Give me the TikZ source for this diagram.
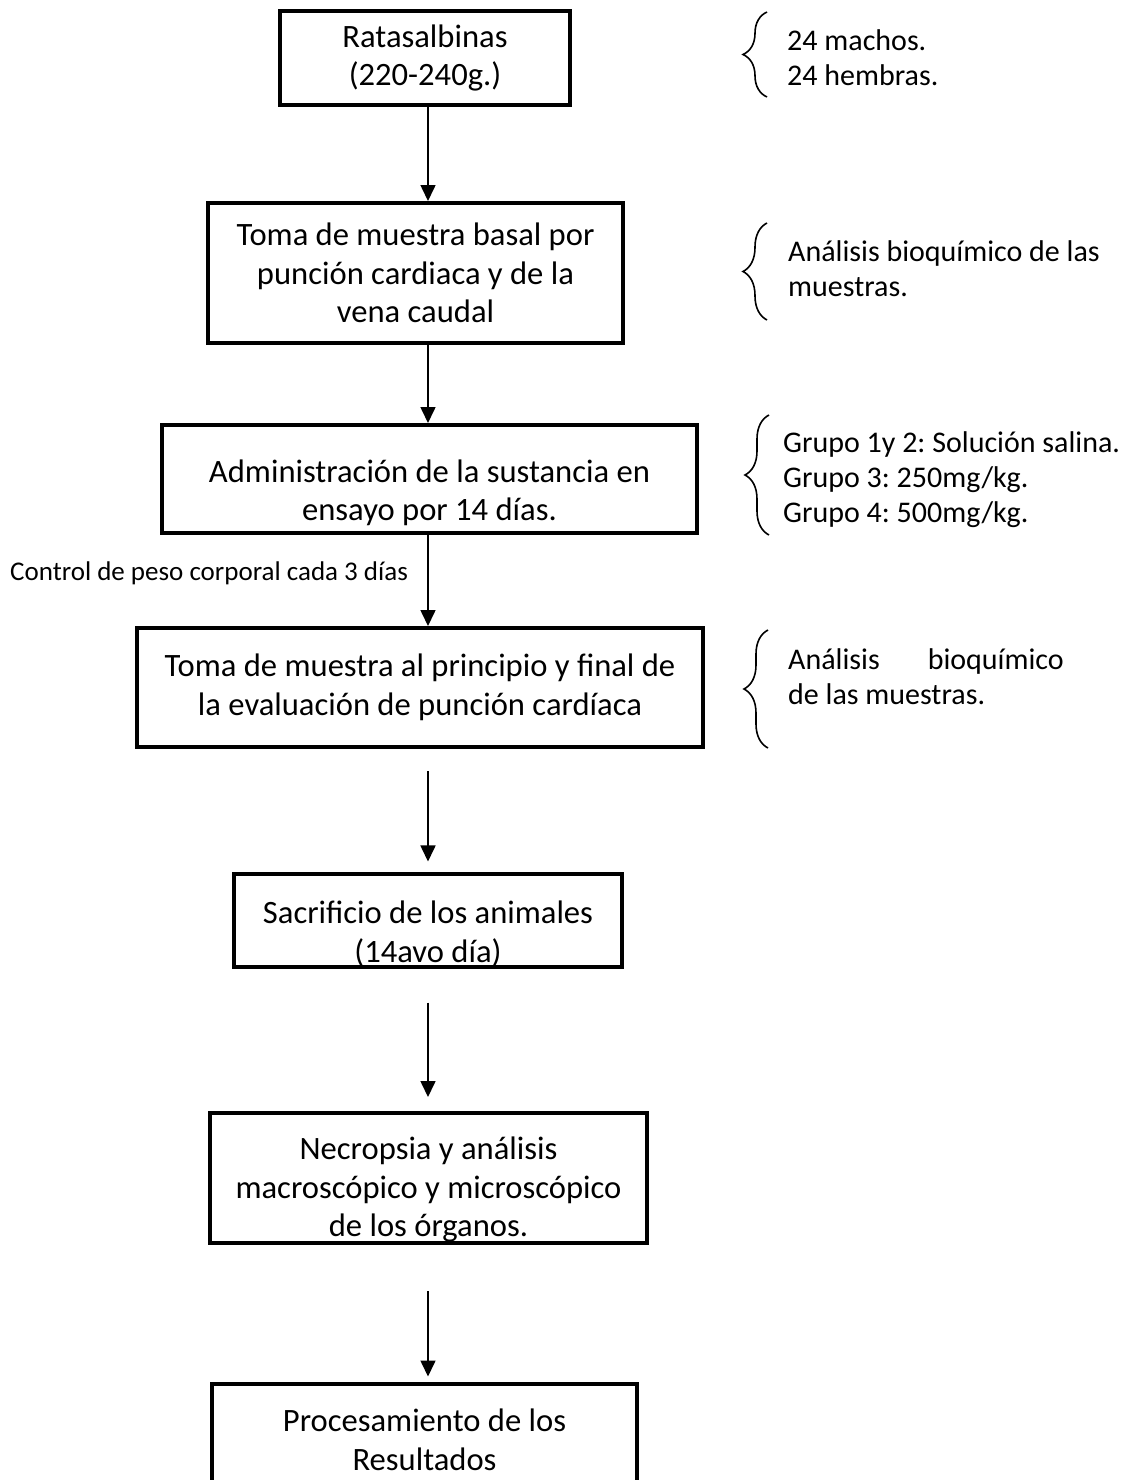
\documentclass[tikz,border=0pt]{standalone}
\usepackage{fontspec}
\setmainfont{Carlito}
\usepackage{tikz}
\usetikzlibrary{arrows.meta,decorations.pathreplacing,calc}
\frenchspacing
% invisible strut that pushes the box text down
\newcommand{\dropby}[1]{\rule{0pt}{#1pt}}

\begin{document}
\begin{tikzpicture}[x=1pt, y=-1pt,
    stepbox/.style={draw, line width=4pt, align=center, inner sep=0pt,
        font=\fontsize{32.6}{38.5}\selectfont},
    flow/.style={line width=1.6pt, -{Triangle[width=15pt,length=16pt]}},
    sidenote/.style={anchor=west, align=left, inner sep=0pt,
        font=\fontsize{30}{35}\selectfont},
    grpbrace/.style={decorate, decoration={brace, amplitude=24pt}, line width=1.6pt}]

    \useasboundingbox (0,0) rectangle (1134,1480);
    \clip (0,0) rectangle (1134,1480);

    % Flow steps
    \node[stepbox, minimum width=290, minimum height=94] (ratas) at (425,58) {Ratasalbinas\\(220-240g.)};
    \node[stepbox, minimum width=415, minimum height=140] (basal) at (415.5,273) {Toma de muestra basal por\\punción cardiaca y de la\\vena caudal};
    \node[stepbox, minimum width=535, minimum height=108] (admin) at (429.5,479) {\dropby{50}Administración de la sustancia en\\ensayo por 14 días.};
    \node[stepbox, minimum width=566, minimum height=119] (evalua) at (420,687.5) {Toma de muestra al principio y final de\\la evaluación de punción cardíaca};
    \node[stepbox, minimum width=388, minimum height=92] (sacrif) at (428,920) {\dropby{50}Sacrificio de los animales\\(14avo día)};
    \node[stepbox, minimum width=437, minimum height=130] (necrop) at (428.5,1178) {\dropby{46}Necropsia y análisis\\macroscópico y microscópico\\de los órganos.};
    \node[stepbox, minimum width=425, minimum height=113] (result) at (424.5,1440) {Procesamiento de los\\Resultados};

    % Arrows down the middle
    \coordinate (axis) at (428,0);
    \draw[flow] (axis |- ratas.south) -- (axis |- basal.north);
    \draw[flow] (axis |- basal.south) -- (axis |- admin.north);
    \draw[flow] (axis |- admin.south) -- (axis |- evalua.north);
    \draw[flow, shorten <=22pt, shorten >=10pt] (axis |- evalua.south) -- (axis |- sacrif.north);
    \draw[flow, shorten <=34pt, shorten >=14pt] (axis |- sacrif.south) -- (axis |- necrop.north);
    \draw[flow, shorten <=46pt, shorten >=5pt] (axis |- necrop.south) -- (axis |- result.north);

    % Weight control note
    \node[anchor=base west, inner sep=0pt, font=\fontsize{27}{32}\selectfont] (peso) at (10,580) {Control de peso corporal cada 3 días};

    % Notes on the right with braces
    \node[sidenote] (sexo) at (787,58) {24 machos.\\24 hembras.};
    \draw[grpbrace] (767,97) -- (767,12);

    \node[sidenote] (bioqa) at (788,269) {Análisis bioquímico de las\\muestras.};
    \draw[grpbrace] (767,320) -- (767,223);

    \node[sidenote] (grupos) at (783,480) {Grupo 1y 2: Solución salina.\\Grupo 3: 250mg/kg.\\Grupo 4: 500mg/kg.};
    \draw[grpbrace] (769,535) -- (769,415);

    \node[sidenote] (bioqb) at (788,677) {Análisis\hspace{48pt}bioquímico\\de las muestras.};
    \draw[grpbrace] (768,748) -- (768,630);
\end{tikzpicture}
\end{document}
